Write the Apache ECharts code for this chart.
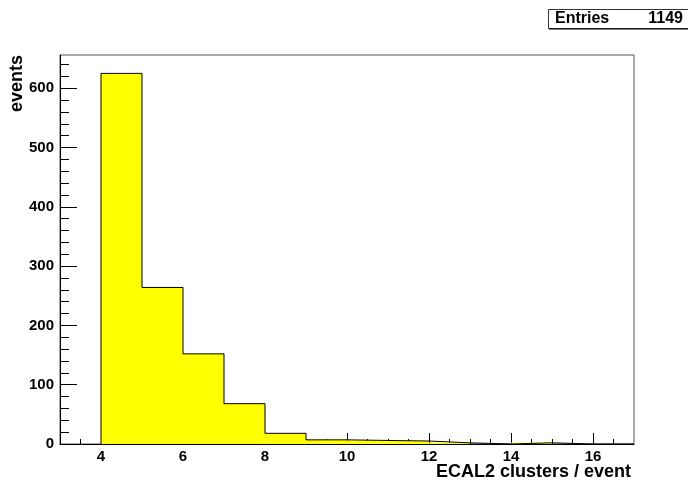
<!DOCTYPE html>
<html>
<head>
<meta charset="utf-8">
<script src="https://cdn.jsdelivr.net/npm/echarts@6/dist/echarts.min.js"></script>
<style>
html,body{margin:0;padding:0;background:#fff;}
#c{width:688px;height:485px;}
</style>
</head>
<body>
<div id="c"></div>
<script>
// Histogram data: bin lower edges (width 1) and counts
var binEdges = [4, 5, 6, 7, 8, 9, 10, 11, 12, 13, 14, 15, 16];
var binWidth = 1;
var counts = [625, 264, 152, 68, 18, 7, 6, 5, 2, 0, 2, 0, 0];
var xMajorTicks = [4, 6, 8, 10, 12, 14, 16];
var yMajorTicks = [0, 100, 200, 300, 400, 500, 600];
var yMinorTicks = [20,40,60,80,120,140,160,180,220,240,260,280,320,340,360,380,420,440,460,480,520,540,560,580,620,640];
var entries = 1149;
var xTitle = 'ECAL2 clusters / event';
var yTitle = 'events';

var FONT = '"Liberation Sans", Arial, Helvetica, sans-serif';

var binData = binEdges.map(function (e, i) { return [e, e + binWidth, counts[i]]; });

// contour built from the data arrays
var contour = [[binEdges[0], 0]];
binEdges.forEach(function (e, i) {
  contour.push([e, counts[i]]);
  contour.push([e + binWidth, counts[i]]);
});
contour.push([binEdges[binEdges.length - 1] + binWidth, 0]);

var chart = echarts.init(document.getElementById('c'), null, {renderer: 'canvas'});
var grid = {left: 60, right: 54, top: 55, bottom: 41, show: true, borderColor: '#555', borderWidth: 1, backgroundColor: 'transparent'};

var minorXTicks = [];
for (var v = 3.5; v < 17; v += 0.5) { if (v % 2 !== 0) minorXTicks.push(v); }

chart.setOption({
  animation: false,
  backgroundColor: '#fff',
  grid: grid,
  xAxis: [{
    type: 'value', min: 3, max: 17, interval: 1,
    axisLine: {show: true, onZero: false, lineStyle: {color: '#000', width: 1}},
    axisTick: {show: true, inside: true, length: 11, lineStyle: {color: '#000'}, customValues: xMajorTicks},
    axisLabel: {show: true, margin: 5, color: '#000', fontSize: 15, fontWeight: 'bold', fontFamily: FONT, customValues: xMajorTicks},
    splitLine: {show: false}
  }, {
    type: 'value', min: 3, max: 17, interval: 0.5, position: 'bottom',
    axisLine: {show: false},
    axisTick: {show: true, inside: true, length: 5, lineStyle: {color: '#000'}, customValues: minorXTicks},
    axisLabel: {show: false},
    splitLine: {show: false}
  }],
  yAxis: [{
    type: 'value', min: 0, max: 656, interval: 100,
    axisLine: {show: true, onZero: false, lineStyle: {color: '#000', width: 1}},
    axisTick: {show: true, inside: true, length: 17, lineStyle: {color: '#000'}, customValues: yMajorTicks},
    axisLabel: {show: true, margin: 6, color: '#000', fontSize: 15, fontWeight: 'bold', fontFamily: FONT, customValues: yMajorTicks},
    splitLine: {show: false}
  }, {
    type: 'value', min: 0, max: 656, interval: 20, position: 'left',
    axisLine: {show: false},
    axisTick: {show: true, inside: true, length: 9, lineStyle: {color: '#000'}, customValues: yMinorTicks},
    axisLabel: {show: false},
    splitLine: {show: false}
  }],
  series: [{
    type: 'custom',
    xAxisIndex: 0, yAxisIndex: 0,
    data: binData,
    encode: {x: [0, 1], y: 2},
    renderItem: function (params, api) {
      var p0 = api.coord([api.value(0), 0]);
      var p1 = api.coord([api.value(1), api.value(2)]);
      return {
        type: 'rect',
        shape: {x: p0[0], y: p1[1], width: p1[0] - p0[0], height: p0[1] - p1[1]},
        style: {fill: '#ffff00', stroke: null}
      };
    },
    z: 2
  }, {
    type: 'line',
    xAxisIndex: 0, yAxisIndex: 0,
    data: contour,
    showSymbol: false,
    symbol: 'none',
    lineStyle: {color: '#000', width: 1},
    z: 3
  }],
  graphic: [
    {type: 'text', left: null, style: {x: 631, y: 472, text: xTitle, align: 'right', verticalAlign: 'middle', fill: '#000', font: 'bold 18px ' + FONT}, z: 10},
    {type: 'text', rotation: Math.PI / 2, x: 17, y: 55, style: {x: 0, y: 0, text: yTitle, align: 'right', verticalAlign: 'middle', fill: '#000', font: 'bold 18px ' + FONT}, z: 10},
    {type: 'rect', shape: {x: 548.5, y: 9.5, width: 145, height: 19}, style: {fill: '#fff', stroke: '#333', lineWidth: 1}, z: 10},
    {type: 'line', shape: {x1: 549, y1: 29, x2: 688, y2: 29}, style: {stroke: '#000', lineWidth: 1}, z: 10},
    {type: 'text', style: {x: 555, y: 19, text: 'Entries', align: 'left', verticalAlign: 'middle', fill: '#000', font: 'bold 16px ' + FONT}, z: 11},
    {type: 'text', style: {x: 683, y: 19, text: String(entries), align: 'right', verticalAlign: 'middle', fill: '#000', font: 'bold 16px ' + FONT}, z: 11}
  ]
});
</script>
</body>
</html>
